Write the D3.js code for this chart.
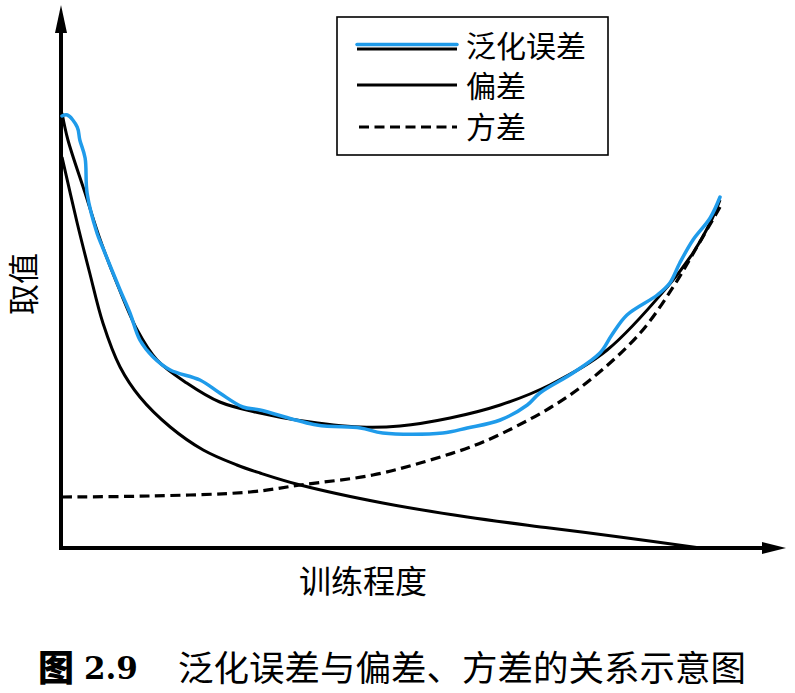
<!DOCTYPE html>
<html>
<head>
<meta charset="utf-8">
<script src="https://cdn.jsdelivr.net/npm/d3@7"></script>
<style>
  body { margin: 0; background: #fff; }
  text { font-family: "Noto Sans CJK SC", sans-serif; fill: #000; }
</style>
</head>
<body>
<div id="chart"></div>
<script>
// training progress (0-100) vs value (0-100)
var totalX = [0, 0.9, 3.5, 5.8, 8.3, 11.4, 14.4, 18.9, 23.9, 30.0, 36, 45.2, 51.2, 58.8, 66.4, 73.9, 82.6, 91.7, 95.6, 98.2, 99.7];
var totalY = [87.0, 81.6, 71.0, 61.6, 53.0, 43.6, 37.6, 33.0, 29.2, 27.0, 25.5, 24.2, 24.4, 26.0, 28.6, 32.6, 39.6, 52.2, 59.0, 65.0, 69.6];

var genX = [0, 0.8, 2.3, 2.7, 3.5, 3.8, 5.3, 6.2, 8.8, 10.3, 11.8, 13.8, 16.4, 20.9, 23.9, 27.4, 30.0, 38.6, 45.2, 48.6, 57.7, 61.4, 66.4, 70.5, 72.4, 77.4, 81.5, 83.3, 85.6, 90.2, 92.1, 93.6, 95.6, 98.2, 99.7];
var genY = [86.4, 86.6, 84.2, 81.6, 78.0, 71.0, 63.0, 60.0, 51.6, 47.0, 41.6, 38.2, 35.6, 33.6, 31.0, 28.2, 27.6, 24.6, 24.0, 23.0, 23.0, 24.0, 25.6, 28.6, 31.0, 35.0, 39.0, 42.6, 46.6, 50.6, 53.0, 57.0, 61.6, 66.0, 70.2];

var biasX = [0, 2.3, 4.2, 6.2, 8.8, 11.8, 16.4, 21.4, 26.5, 30.0, 36.1, 48.6, 61.4, 73.9, 84.5, 96.7];
var biasY = [78.2, 65.0, 55.0, 45.0, 36.2, 30.2, 24.2, 19.6, 16.6, 15.0, 12.6, 9.0, 6.2, 4.0, 2.2, 0];

var varX = [0, 13.3, 28.5, 36.1, 47.1, 55.8, 63.8, 73.9, 80.0, 87.6, 92.6, 96.2, 99.7];
var varY = [10.2, 10.4, 11.2, 12.6, 14.6, 17.6, 21.2, 28.0, 33.6, 43.0, 52.2, 60.2, 68.2];

var legendLabels = ["泛化误差", "偏差", "方差"];
var xLabel = "训练程度";
var yLabel = "取值";
var captionNum = "2.9";
var captionText = "泛化误差与偏差、方差的关系示意图";

var w = 795, h = 693;
var blue = "#1f9bea";

var svg = d3.select("#chart").append("svg")
  .attr("width", w)
  .attr("height", h);

var x = d3.scaleLinear().domain([0, 100]).range([62, 722]);
var y = d3.scaleLinear().domain([0, 100]).range([548, 48]);

function pts(xs, ys) {
  return xs.map(function(d, i) { return [d, ys[i]]; });
}

var line = d3.line()
  .x(function(d) { return x(d[0]); })
  .y(function(d) { return y(d[1]); })
  .curve(d3.curveCatmullRom.alpha(0.5));

// axes (no ticks, arrow heads)
svg.append("line")
  .attr("x1", 61).attr("y1", 550)
  .attr("x2", 61).attr("y2", 30)
  .attr("stroke", "#000").attr("stroke-width", 4);
svg.append("path")
  .attr("d", "M61,5 L55,33 L67,33 Z")
  .attr("fill", "#000");

svg.append("line")
  .attr("x1", 59).attr("y1", 548)
  .attr("x2", 770).attr("y2", 548)
  .attr("stroke", "#000").attr("stroke-width", 4);
svg.append("path")
  .attr("d", "M786,548 L762,542 L762,554 Z")
  .attr("fill", "#000");

// curves
svg.append("path")
  .attr("d", line(pts(totalX, totalY)))
  .attr("fill", "none").attr("stroke", "#000").attr("stroke-width", 3);

svg.append("path")
  .attr("d", line(pts(biasX, biasY)))
  .attr("fill", "none").attr("stroke", "#000").attr("stroke-width", 3);

svg.append("path")
  .attr("d", line(pts(varX, varY)))
  .attr("fill", "none").attr("stroke", "#000").attr("stroke-width", 3.2)
  .attr("stroke-dasharray", "10,5.5");

svg.append("path")
  .attr("d", line(pts(genX, genY)))
  .attr("fill", "none").attr("stroke", blue).attr("stroke-width", 3.5)
  .attr("stroke-linejoin", "round").attr("stroke-linecap", "round");

// legend
var lg = svg.append("g");
lg.append("rect")
  .attr("x", 337).attr("y", 17)
  .attr("width", 271).attr("height", 138)
  .attr("fill", "#fff").attr("stroke", "#000").attr("stroke-width", 1.6);

var rowY = [46, 86, 127];
lg.append("line")
  .attr("x1", 357).attr("x2", 457).attr("y1", 49).attr("y2", 49)
  .attr("stroke", "#000").attr("stroke-width", 3);
lg.append("line")
  .attr("x1", 357).attr("x2", 457).attr("y1", 44.5).attr("y2", 44.5)
  .attr("stroke", blue).attr("stroke-width", 3.5).attr("stroke-linecap", "round");
lg.append("line")
  .attr("x1", 357).attr("x2", 457).attr("y1", 85).attr("y2", 85)
  .attr("stroke", "#000").attr("stroke-width", 3);
lg.append("line")
  .attr("x1", 359).attr("x2", 457).attr("y1", 127).attr("y2", 127)
  .attr("stroke", "#000").attr("stroke-width", 3.2)
  .attr("stroke-dasharray", "10,5.5");

lg.selectAll("text.lbl")
  .data(legendLabels)
  .enter().append("text")
  .attr("class", "lbl")
  .attr("x", 466)
  .attr("y", function(d, i) { return rowY[i]; })
  .attr("dy", "0.36em")
  .attr("font-size", 30)
  .text(function(d) { return d; });

// axis labels
svg.append("text")
  .attr("x", 363).attr("y", 581)
  .attr("dy", "0.36em")
  .attr("text-anchor", "middle")
  .attr("font-size", 32)
  .text(xLabel);

svg.append("text")
  .attr("transform", "translate(24,284) rotate(-90)")
  .attr("dy", "0.36em")
  .attr("text-anchor", "middle")
  .attr("font-size", 31)
  .text(yLabel);

// caption
svg.append("text")
  .attr("x", 38).attr("y", 668)
  .attr("dy", "0.36em")
  .attr("font-size", 36)
  .attr("font-weight", 900)
  .text("图");
svg.append("text")
  .attr("x", 84).attr("y", 668)
  .attr("dy", "0.36em")
  .attr("font-size", 31)
  .attr("font-weight", "bold")
  .style("font-family", "'DejaVu Serif', serif")
  .text(captionNum);
svg.append("text")
  .attr("x", 178).attr("y", 668)
  .attr("dy", "0.36em")
  .attr("font-size", 35.5)
  .text(captionText);
</script>
</body>
</html>
